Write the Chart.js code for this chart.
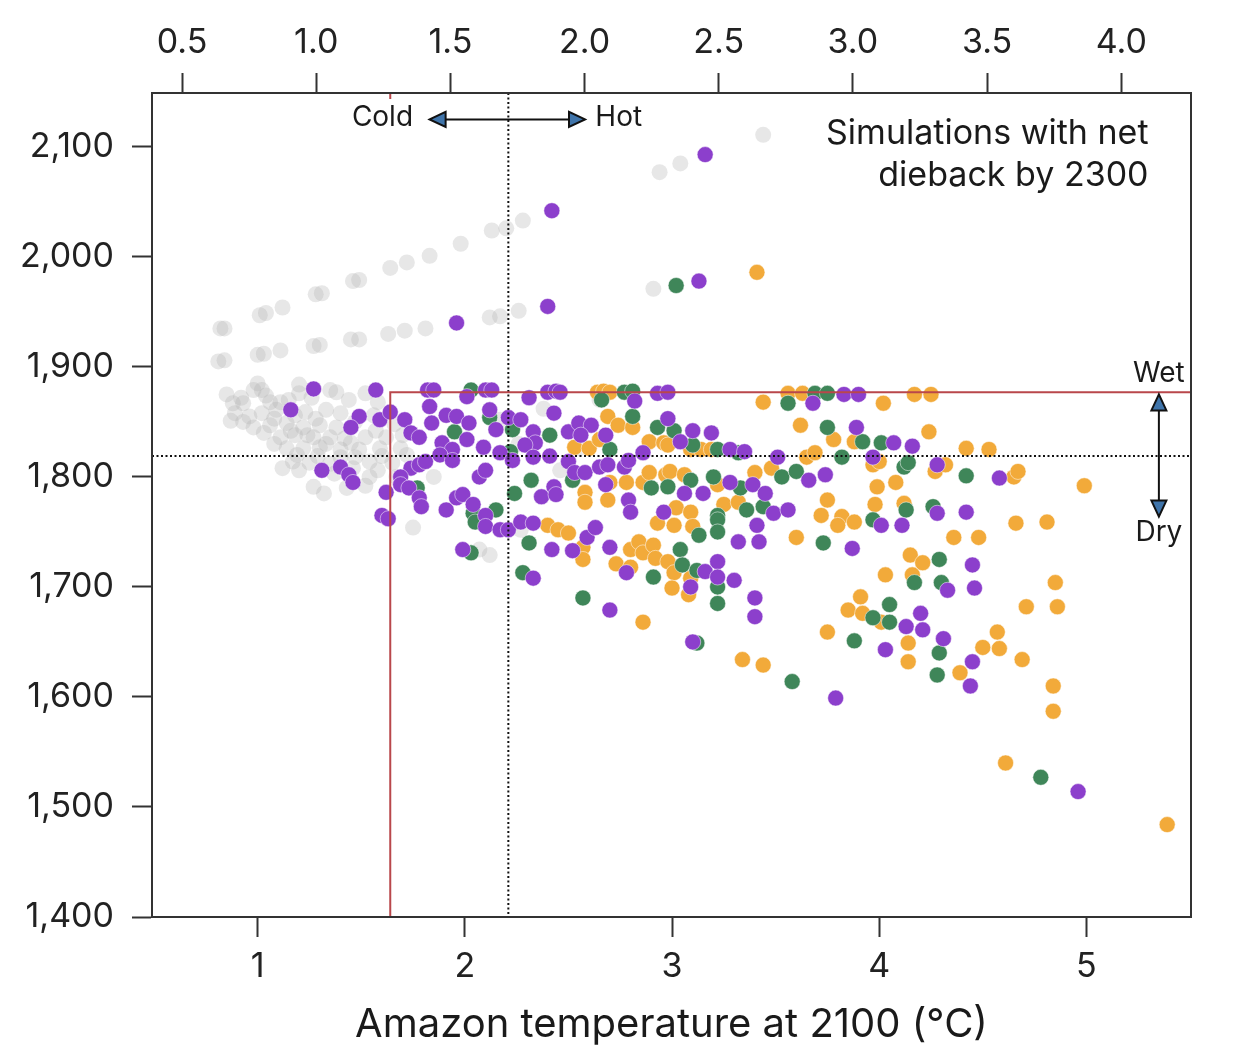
<!DOCTYPE html>
<html lang="en">
<head>
    <meta charset="UTF-8">
    <title>Amazon temperature vs dieback simulations</title>
    <script src="https://cdn.jsdelivr.net/npm/chart.js"></script>
    <style>
        body { margin: 0; background: #fff; }
        canvas { display: block; }
    </style>
</head>
<body>
    <canvas id="dieback" width="1234" height="1064"></canvas>

    <script>
        // series values, [temperature at 2100 (°C), y value]
        const seriesNames = ['No net dieback', 'Group A', 'Group B', 'Group C'];

        const greyPoints = [
            [0.82,1935],[0.84,1935],[1.01,1947],[1.04,1949],[1.12,1954],[1.28,1966],[1.31,1967],[1.46,1978],[1.49,1979],
            [1.64,1990],[1.72,1995],[1.83,2001],[1.98,2012],[2.13,2024],[2.20,2026],[2.28,2033],[2.94,2077],[3.04,2085],[3.44,2111],
            [0.81,1905],[0.84,1906],[1.00,1911],[1.03,1912],[1.11,1915],[1.27,1919],[1.30,1920],[1.45,1925],[1.49,1925],
            [1.63,1930],[1.71,1933],[1.81,1935],[2.12,1945],[2.17,1946],[2.26,1951],[2.91,1971],
            [0.98,1879],[1.02,1879],[0.88,1867],[0.93,1867],[1.06,1868],[1.11,1868],[1.20,1876],[1.35,1879],[1.38,1877],[1.52,1876],
            [0.89,1858],[0.96,1855],[1.02,1858],[1.09,1861],[1.23,1859],[1.33,1861],[1.40,1858],[0.98,1845],[1.06,1847],[1.14,1849],
            [1.22,1845],[1.30,1847],[1.38,1845],[1.11,1836],[1.18,1838],[1.27,1836],[1.35,1836],[1.42,1835],[1.52,1836],[1.62,1836],
            [1.14,1826],[1.22,1826],[1.30,1827],[1.40,1825],[1.49,1825],[1.59,1826],[1.69,1826],[1.17,1814],[1.25,1813],[1.40,1818],
            [1.54,1814],[1.65,1813],[1.27,1791],[1.32,1785],[1.54,1800],[1.20,1806],[2.17,1852],[2.46,1806],[2.65,1870],[2.27,1752],
            [2.07,1734],[1.75,1754],[2.12,1729],[1.00,1885],[0.85,1875],[0.87,1851],
            [0.92,1872],[1.04,1874],[1.15,1870],[1.26,1872],[1.44,1870],[1.58,1868],[0.93,1850],[1.08,1853],[1.18,1856],[1.28,1853],
            [1.47,1850],[1.56,1856],[1.66,1848],[1.03,1840],[1.16,1842],[1.24,1838],[1.33,1830],[1.45,1831],[1.57,1842],[1.70,1838],
            [1.08,1830],[1.19,1820],[1.29,1819],[1.35,1812],[1.47,1818],[1.60,1819],[1.72,1820],[1.12,1808],[1.37,1803],[1.46,1808],
            [1.58,1806],[1.67,1800],[1.43,1790],[1.52,1792],[1.85,1800],[1.90,1826],[2.26,1830],[2.38,1862],[2.55,1826],[1.20,1884]
        ];

        const purplePoints = [
            [2.42,2042],[3.16,2093],[1.96,1940],[2.40,1955],[3.13,1978],
            [1.27,1880],[1.57,1879],[1.16,1861],[1.49,1855],[1.45,1845],[1.59,1852],[1.64,1859],[1.71,1852],[1.74,1840],[1.78,1836],
            [1.83,1864],[1.82,1879],[1.85,1879],[1.84,1849],[1.91,1856],[1.96,1855],[1.89,1831],[1.94,1825],[2.02,1849],[2.01,1834],
            [2.09,1827],[2.12,1861],[2.10,1879],[2.13,1879],[2.01,1873],[2.15,1843],
            [1.31,1806],[1.40,1809],[1.44,1802],[1.46,1795],[1.74,1808],[1.78,1811],[1.81,1814],[1.69,1800],[1.69,1793],[1.62,1786],
            [1.73,1790],[1.78,1781],[1.79,1773],[1.91,1770],[1.96,1781],[1.99,1784],[2.04,1775],[2.07,1800],[2.10,1806],[2.17,1822],
            [1.88,1820],[1.94,1815],[1.60,1765],[1.63,1762],[2.10,1765],[1.99,1734],[2.10,1755],[2.17,1752],
            [2.40,1877],[2.44,1878],[2.46,1877],[2.93,1876],[2.98,1877],[3.83,1875],[2.82,1869],[2.31,1872],[3.68,1867],[2.43,1858],
            [2.98,1853],[3.10,1842],[3.19,1840],[2.21,1854],[2.27,1852],[2.33,1841],[2.34,1831],[2.29,1829],[2.50,1841],[2.55,1849],
            [2.61,1847],[2.56,1838],[2.68,1838],[2.41,1819],[2.33,1818],[2.23,1815],[3.04,1832],[3.28,1825],[3.35,1823],[3.51,1818],
            [2.50,1814],[2.53,1804],[2.58,1804],[2.65,1809],[2.69,1811],[2.77,1809],[2.79,1815],[2.86,1822],[2.37,1782],[2.43,1791],
            [2.44,1784],[2.68,1793],[2.79,1779],[2.80,1768],[3.06,1785],[3.15,1785],[3.28,1795],[3.39,1793],[3.45,1785],[3.66,1797],
            [3.74,1802],[2.96,1768],[3.49,1767],[3.56,1770],
            [3.90,1875],[3.89,1845],[4.07,1831],[4.16,1828],[3.97,1818],[4.28,1811],[4.58,1799],[4.28,1767],[4.42,1768],
            [2.21,1752],[2.27,1759],[2.33,1758],[2.42,1734],[2.52,1733],[2.59,1745],[2.63,1754],[2.70,1736],[2.33,1708],[2.70,1679],
            [2.78,1713],[3.09,1700],[3.16,1714],[3.22,1723],[3.22,1709],[3.30,1706],[3.32,1741],[3.41,1756],[3.42,1741],[3.40,1690],
            [3.40,1673],[3.10,1650],[3.87,1735],
            [4.01,1756],[4.11,1756],[4.45,1720],[4.33,1697],[4.46,1699],[4.13,1664],[4.20,1676],[4.21,1661],[4.03,1643],[4.31,1653],
            [4.45,1632],[3.79,1599],[4.44,1610],[4.96,1514]
        ];

        const greenPoints = [
            [3.02,1974],[2.03,1879],[1.95,1841],[2.12,1854],[1.77,1790],[2.15,1770],[2.04,1767],[2.03,1731],[2.05,1759],
            [2.77,1877],[2.81,1878],[2.66,1870],[3.56,1867],[3.69,1876],[3.75,1876],[2.81,1855],[2.93,1845],[3.01,1842],[3.75,1845],
            [2.41,1838],[2.23,1843],[2.22,1823],[2.70,1825],[3.10,1829],[3.22,1825],[3.32,1822],[3.82,1818],[2.52,1797],[2.32,1797],
            [2.24,1785],[2.90,1790],[2.98,1791],[3.09,1797],[3.20,1800],[3.33,1790],[3.53,1800],[3.60,1805],[3.22,1765],[3.36,1770],
            [3.44,1773],[3.92,1832],[4.01,1831],[4.12,1809],[4.14,1813],[4.42,1801],[4.13,1770],[4.26,1773],
            [2.31,1740],[2.28,1713],[2.57,1690],[2.91,1709],[3.04,1734],[3.05,1720],[3.12,1715],[3.13,1747],[3.22,1700],[3.22,1685],
            [3.12,1649],[3.22,1761],[3.22,1750],[3.73,1740],
            [3.97,1761],[4.29,1725],[4.17,1704],[4.30,1704],[3.97,1672],[4.05,1684],[4.05,1668],[3.88,1651],[4.29,1640],
            [3.58,1614],[4.28,1620],[4.78,1527]
        ];

        const orangePoints = [
            [3.41,1986],
            [2.64,1877],[2.67,1878],[2.70,1877],[3.56,1876],[3.63,1876],[3.44,1868],[2.69,1855],[2.74,1847],[2.81,1845],[3.62,1847],
            [3.78,1834],[2.53,1827],[2.60,1826],[2.65,1834],[2.89,1832],[2.96,1831],[2.98,1829],[3.09,1825],[3.14,1825],[3.19,1825],
            [3.65,1818],[3.69,1822],[2.58,1786],[2.58,1777],[2.70,1795],[2.78,1795],[2.69,1779],[2.86,1795],[2.89,1804],[2.97,1802],
            [2.99,1805],[3.06,1802],[3.22,1793],[3.40,1804],[3.48,1808],[3.75,1779],[3.02,1772],[3.09,1768],[3.25,1775],[3.32,1777],
            [3.72,1765],[3.82,1764],
            [4.17,1875],[4.25,1875],[4.02,1867],[4.24,1841],[3.88,1832],[4.42,1826],[4.53,1825],[3.97,1811],[4.00,1814],[4.27,1805],
            [4.32,1811],[4.65,1800],[4.67,1805],[4.99,1792],[3.99,1791],[4.08,1795],[3.98,1775],[4.12,1776],
            [2.40,1756],[2.45,1752],[2.50,1749],[2.57,1736],[2.57,1725],[2.73,1721],[2.80,1718],[2.80,1734],[2.84,1741],[2.86,1731],
            [2.91,1738],[2.92,1726],[2.98,1723],[3.01,1713],[3.00,1699],[3.08,1693],[3.09,1708],[2.86,1668],[2.93,1758],[3.01,1756],
            [3.10,1755],[3.60,1745],[3.80,1756],[3.85,1679],[3.75,1659],[3.34,1634],[3.44,1629],
            [3.88,1759],[4.66,1758],[4.81,1759],[4.36,1745],[4.48,1745],[4.15,1729],[4.21,1722],[4.03,1711],[4.16,1711],[4.85,1704],
            [4.71,1682],[4.86,1682],[3.91,1691],[3.92,1676],[4.01,1668],[4.14,1649],[4.57,1659],[4.50,1645],[4.58,1644],[4.69,1634],
            [4.14,1632],[4.39,1622],[4.84,1610],[4.84,1587],[4.61,1540],[5.39,1484]
        ];

        // reference lines
        const refX = 2.21;        // dotted vertical
        const refY = 1819;        // dotted horizontal
        const boxX = 1.64;        // red threshold
        const boxY = 1877;

        const FONT = 'Inter, "Noto Sans", sans-serif';

        function toXY(list) {
            return list.map(p => ({ x: p[0], y: p[1] }));
        }

        function arrowHead(ctx, tipX, tipY, dir) {
            // dir: 'l', 'r', 'u', 'd'
            const len = 16, half = 7.5;
            ctx.beginPath();
            if (dir === 'l') { ctx.moveTo(tipX, tipY); ctx.lineTo(tipX + len, tipY - half); ctx.lineTo(tipX + len, tipY + half); }
            if (dir === 'r') { ctx.moveTo(tipX, tipY); ctx.lineTo(tipX - len, tipY - half); ctx.lineTo(tipX - len, tipY + half); }
            if (dir === 'u') { ctx.moveTo(tipX, tipY); ctx.lineTo(tipX - half, tipY + len); ctx.lineTo(tipX + half, tipY + len); }
            if (dir === 'd') { ctx.moveTo(tipX, tipY); ctx.lineTo(tipX - half, tipY - len); ctx.lineTo(tipX + half, tipY - len); }
            ctx.closePath();
            ctx.fillStyle = '#3f74aa';
            ctx.fill();
            ctx.lineWidth = 2;
            ctx.strokeStyle = '#111';
            ctx.stroke();
        }

        const overlay = {
            id: 'overlay',
            afterDatasetsDraw(chart) {
                const { ctx, chartArea: a, scales: { x, y } } = chart;
                ctx.save();

                // dotted reference lines
                ctx.strokeStyle = '#111';
                ctx.lineWidth = 2;
                ctx.setLineDash([2, 2.5]);
                ctx.beginPath();
                ctx.moveTo(x.getPixelForValue(refX), a.top);
                ctx.lineTo(x.getPixelForValue(refX), a.bottom);
                ctx.moveTo(a.left, y.getPixelForValue(refY));
                ctx.lineTo(a.right, y.getPixelForValue(refY));
                ctx.stroke();
                ctx.setLineDash([]);

                // red threshold lines
                const bx = x.getPixelForValue(boxX), by = y.getPixelForValue(boxY);
                ctx.strokeStyle = '#b9474b';
                ctx.lineWidth = 2;
                ctx.beginPath();
                ctx.moveTo(bx, a.bottom);
                ctx.lineTo(bx, by);
                ctx.lineTo(a.right, by);
                ctx.moveTo(bx, a.top);
                ctx.lineTo(bx, a.top + 6);
                ctx.stroke();

                // Cold <-> Hot
                const ay = y.getPixelForValue(2125);
                const lx = x.getPixelForValue(1.83), rx = x.getPixelForValue(2.58);
                ctx.strokeStyle = '#111';
                ctx.lineWidth = 2;
                ctx.beginPath();
                ctx.moveTo(lx + 12, ay);
                ctx.lineTo(rx - 12, ay);
                ctx.stroke();
                arrowHead(ctx, lx, ay, 'l');
                arrowHead(ctx, rx, ay, 'r');

                // Wet <-> Dry
                const vx = x.getPixelForValue(5.35);
                const ty = y.getPixelForValue(1875), dy = y.getPixelForValue(1764);
                ctx.strokeStyle = '#111';
                ctx.lineWidth = 2;
                ctx.beginPath();
                ctx.moveTo(vx, ty + 12);
                ctx.lineTo(vx, dy - 12);
                ctx.stroke();
                arrowHead(ctx, vx, ty, 'u');
                arrowHead(ctx, vx, dy, 'd');

                // labels
                ctx.fillStyle = '#1a1a1a';
                ctx.textBaseline = 'middle';
                ctx.font = '28px ' + FONT;
                ctx.textAlign = 'right';
                ctx.fillText('Cold', x.getPixelForValue(1.75), y.getPixelForValue(2127));
                ctx.textAlign = 'left';
                ctx.fillText('Hot', x.getPixelForValue(2.63), y.getPixelForValue(2127));
                ctx.textAlign = 'center';
                ctx.fillText('Wet', vx, y.getPixelForValue(1894));
                ctx.fillText('Dry', vx, y.getPixelForValue(1749));

                ctx.font = '34px ' + FONT;
                ctx.textAlign = 'right';
                ctx.fillText('Simulations with net', x.getPixelForValue(5.30), y.getPixelForValue(2112));
                ctx.fillText('dieback by 2300', x.getPixelForValue(5.30), y.getPixelForValue(2074));

                // frame
                ctx.strokeStyle = '#333';
                ctx.lineWidth = 2;
                ctx.strokeRect(a.left, a.top, a.right - a.left, a.bottom - a.top);
                ctx.restore();
            }
        };

        const pointDefaults = { pointRadius: 8, pointHoverRadius: 8, pointBorderWidth: 1 };

        const axisTicks = { color: '#222', font: { family: FONT, size: 34 } };
        const axisGrid = { drawOnChartArea: false, tickLength: 20, tickColor: '#333', tickWidth: 2 };
        const axisBorder = { display: true, color: '#333', width: 2 };

        new Chart(document.getElementById('dieback'), {
            type: 'scatter',
            data: {
                datasets: [
                    Object.assign({ label: seriesNames[3], data: toXY(purplePoints), backgroundColor: '#8c3fcc', borderColor: 'rgba(255,255,255,0.5)' }, pointDefaults),
                    Object.assign({ label: seriesNames[2], data: toXY(greenPoints), backgroundColor: '#3f8659', borderColor: 'rgba(255,255,255,0.5)' }, pointDefaults),
                    Object.assign({ label: seriesNames[1], data: toXY(orangePoints), backgroundColor: '#f2aa3a', borderColor: 'rgba(255,255,255,0.5)' }, pointDefaults),
                    Object.assign({ label: seriesNames[0], data: toXY(greyPoints), backgroundColor: 'rgba(175,175,175,0.3)', borderColor: 'rgba(0,0,0,0)' }, pointDefaults)
                ]
            },
            options: {
                responsive: false,
                animation: false,
                devicePixelRatio: 1,
                layout: { padding: { left: 0, right: 43, top: 0, bottom: 0 } },
                plugins: { legend: { display: false }, tooltip: { enabled: false } },
                scales: {
                    x: {
                        type: 'linear',
                        position: 'bottom',
                        min: 0.49,
                        max: 5.505,
                        ticks: Object.assign({ stepSize: 1, includeBounds: false, padding: 9 }, axisTicks),
                        grid: axisGrid,
                        border: axisBorder,
                        title: {
                            display: true,
                            text: 'Amazon temperature at 2100 (°C)',
                            color: '#1a1a1a',
                            font: { family: FONT, size: 40 },
                            padding: { top: 0, bottom: 15 }
                        },
                        afterFit(scale) { scale.height = 147; }
                    },
                    xTop: {
                        type: 'linear',
                        position: 'top',
                        min: 0.388,
                        max: 4.26,
                        ticks: Object.assign({ stepSize: 0.5, includeBounds: false, padding: 10, callback: v => v.toFixed(1) }, axisTicks),
                        grid: axisGrid,
                        border: axisBorder,
                        afterFit(scale) { scale.height = 93; }
                    },
                    y: {
                        type: 'linear',
                        position: 'left',
                        min: 1400,
                        max: 2149,
                        ticks: Object.assign({ stepSize: 100, includeBounds: false, padding: 18, callback: v => v.toLocaleString('en-US') }, axisTicks),
                        grid: axisGrid,
                        border: axisBorder,
                        afterFit(scale) { scale.width = 152; }
                    }
                }
            },
            plugins: [overlay]
        });
    </script>
</body>
</html>
